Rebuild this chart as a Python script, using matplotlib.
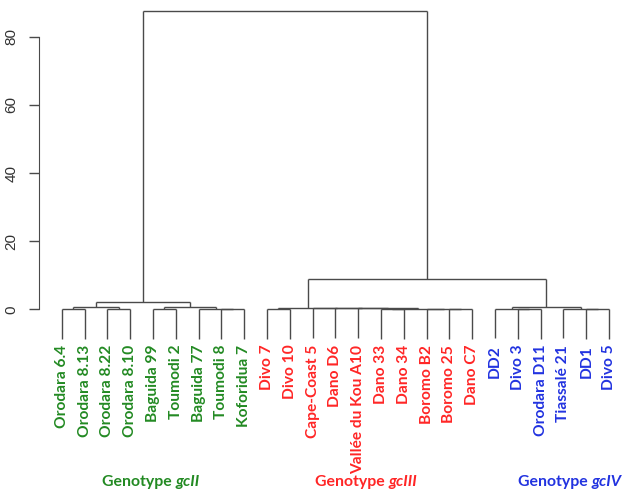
import matplotlib
matplotlib.use("Agg")
import matplotlib.pyplot as plt

# leaf labels in plotting order
labels = ["Orodara 6.4", "Orodara 8.13", "Orodara 8.22", "Orodara 8.10", "Baguida 99",
          "Toumodi 2", "Baguida 77", "Toumodi 8", "Koforidua 7",
          "Divo 7", "Divo 10", "Cape-Coast 5", "Dano D6", "Vallée du Kou A10",
          "Dano 33", "Dano 34", "Boromo B2", "Boromo 25", "Dano C7",
          "DD2", "Divo 3", "Orodara D11", "Tiassalé 21", "DD1", "Divo 5"]
groups = [0] * 9 + [1] * 10 + [2] * 6
group_colors = ["#238a23", "#ff2626", "#2233e0"]
group_names = ["gcII", "gcIII", "gcIV"]

# hclust-style merges: negative = leaf (1-based), positive = earlier merge row (1-based)
merge_left = [-1, -3, 1, -5, -8, -7, 4, 3,
              -10, -18, -17, -15, 12, -14, -13, -12, 9,
              -21, -20, -24, -23, 19, 17, 8]
merge_right = [-2, -4, 2, -6, -9, 5, 6, 7,
               -11, -19, 10, -16, 11, 13, 14, 15, 16,
               -22, 18, -25, 20, 21, 22, 23]
heights = [0.05, 0.05, 0.7, 0.1, 0.05, 0.15, 0.7, 2.15,
           0.1, 0.1, 0.15, 0.1, 0.2, 0.25, 0.28, 0.3, 0.35,
           0.1, 0.2, 0.1, 0.2, 0.75, 8.8, 87.5]

hang = 0.1 * max(heights)
line_col = "#4a4a4a"

fig = plt.figure(figsize=(6.28, 4.94), dpi=100)
ax = fig.add_axes([39 / 628, 0, 1 - 39 / 628, 1])

xpos = []


def child_pos(c):
    if c < 0:
        return c * -1 - 1.0, None
    return xpos[c - 1], heights[c - 1]


for i in range(len(heights)):
    h = heights[i]
    xl, hl = child_pos(merge_left[i])
    xr, hr = child_pos(merge_right[i])
    for x, ch in [(xl, hl), (xr, hr)]:
        bottom = h - hang if ch is None else ch
        ax.plot([x, x], [bottom, h], color=line_col, lw=1.0, solid_capstyle="butt")
    ax.plot([xl, xr], [h, h], color=line_col, lw=1.0, solid_capstyle="butt")
    xpos.append((xl + xr) / 2)

for i, lab in enumerate(labels):
    ax.text(i, -10.4, lab, rotation=90, ha="center", va="top",
            color=group_colors[groups[i]], fontsize=11.2, fontweight="bold",
            family="Lato")

# genotype captions
starts = [1.75, 11.1, 20.0]
for g in range(3):
    t = ax.text(starts[g], -50.7, "Genotype ", ha="left", va="center",
                color=group_colors[g], fontsize=11.4, fontweight="bold", family="Lato")
    ax.annotate(group_names[g], xy=(1, 0), xycoords=t, va="bottom", ha="left",
                color=group_colors[g], fontsize=11.4, fontweight="bold",
                fontstyle="italic", family="Lato")

ax.set_xlim(-1.0, 24.83)
ax.set_ylim(-54.2, 90.77)
for s in ["top", "right", "bottom"]:
    ax.spines[s].set_visible(False)
ax.spines["left"].set_bounds(0, 80)
ax.spines["left"].set_color(line_col)
ax.set_xticks([])
ax.set_yticks([0, 20, 40, 60, 80])
ax.tick_params(axis="y", length=7, width=1, color=line_col, pad=8)
ax.set_yticklabels(["0", "20", "40", "60", "80"], rotation=90, va="center",
                   family="Liberation Sans", fontsize=11, color="#333333")

fig.savefig("out.png", dpi=100)
